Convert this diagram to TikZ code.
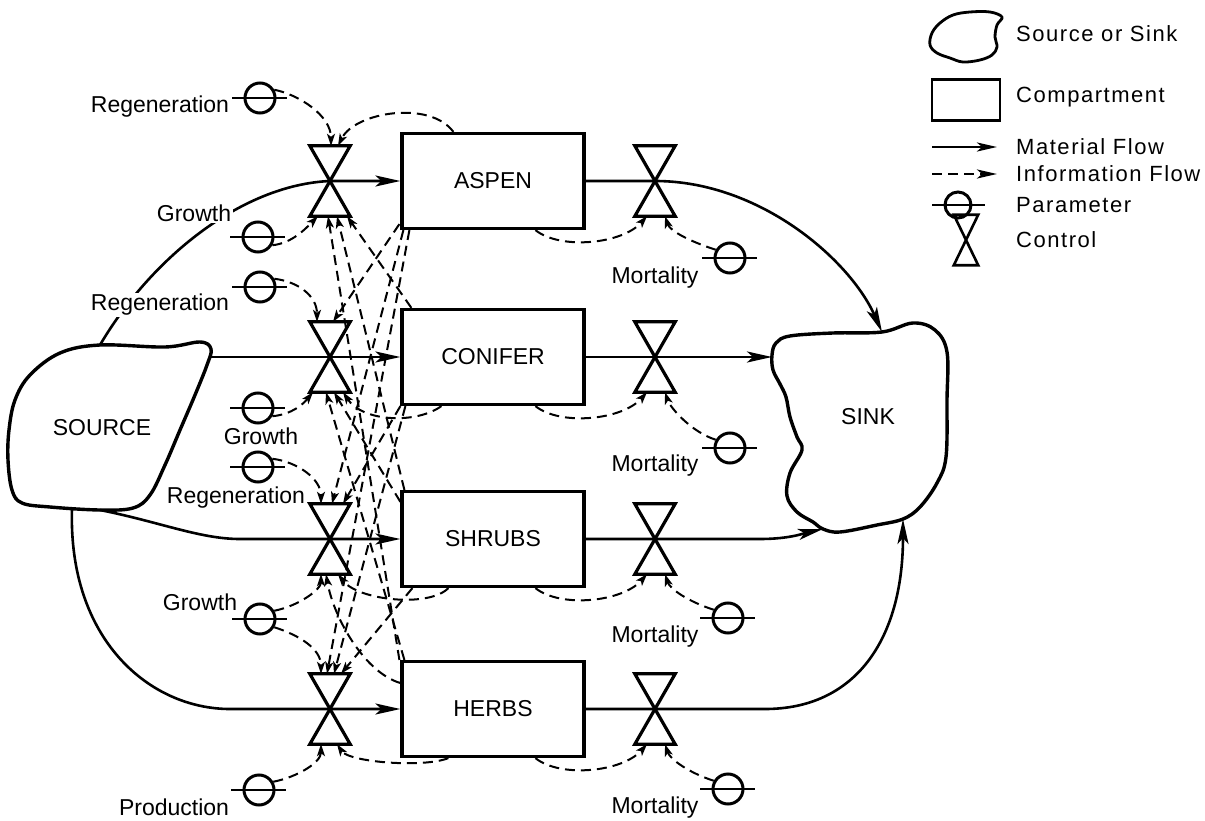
\documentclass[tikz,border=0pt]{standalone}
\usepackage{fontspec}
\setmainfont{Liberation Sans}
\newfontfamily\legfont[LetterSpace=7]{Liberation Sans}
\usetikzlibrary{arrows.meta,calc}
\tikzset{
 box/.style={draw, line width=3.2pt, minimum width=182pt, minimum height=95pt, inner sep=0pt, font=\fontsize{23pt}{25pt}\selectfont},
 valvebox/.style={minimum width=40pt, minimum height=70pt, inner sep=0pt},
 valveline/.style={line width=3.2pt, line join=miter},
 param/.style={circle, draw, line width=3pt, minimum size=30pt, inner sep=0pt},
 parbar/.style={line width=2.6pt},
 flow/.style={line width=2.6pt, -{Stealth[length=25pt,width=11pt,inset=6pt]}},
 info/.style={line width=2pt, dash pattern=on 10pt off 6pt, -{Stealth[length=12pt,width=8pt,inset=3pt]}},
 blob/.style={line width=3.4pt, line join=round},
 lbl/.style={font=\fontsize{23pt}{25pt}\selectfont, inner sep=1.5pt},
 cut/.style={lbl, fill=white},
 legtxt/.style={font=\legfont\fontsize{22pt}{24pt}\selectfont, anchor=west, inner sep=0pt},
}
\newcommand\valvenode[2]{%
 \node[valvebox] (#1) at (#2) {};
 \draw[valveline] (#1.north west) -- (#1.north east) -- (#1.south west) -- (#1.south east) -- cycle;}
\newcommand\paramnode[2]{%
 \node[param] (#1) at (#2) {};
 \draw[parbar] ($(#1.center)+(-28,0)$) -- ($(#1.center)+(27,0)$);}
\begin{document}
\begin{tikzpicture}[x=1pt,y=-1pt]
\useasboundingbox (0,0) rectangle (1205,821);

% source and sink
\draw[blob] plot[smooth cycle, tension=0.6] coordinates {(100,345) (165,347) (200,342) (211,349) (207,365) (195,395) (180,430) (165,465) (150,495) (133,508) (100,510) (50,507) (22,503) (12,490) (8,460) (9,430) (15,400) (30,375) (60,353)};
\node[lbl] (source) at (102,428) {SOURCE};
\draw[blob] plot[smooth cycle, tension=0.6] coordinates {(882,332) (913,323) (935,330) (947,352) (947,400) (946,457) (937,483) (920,507) (903,519) (877,525) (840,532) (823,529) (813,522) (797,512) (787,496) (790,473) (802,450) (797,437) (790,417) (786,397) (780,384) (773,370) (772,355) (776,343) (790,336) (833,333)};
\node[lbl] (sink) at (868,417) {SINK};
\coordinate (srcA) at (100,345);
\coordinate (srcC) at (209,357);
\coordinate (srcS) at (100,510);
\coordinate (srcH) at (72,509);
\coordinate (snkA) at (882,332);
\coordinate (snkC) at (772,357);
\coordinate (snkS) at (823,529);
\coordinate (snkH) at (903,519);

% compartments
\node[box] (A) at (493,181) {ASPEN};
\node[box] (C) at (493,357) {CONIFER};
\node[box] (S) at (493,539) {SHRUBS};
\node[box] (H) at (493,709) {HERBS};

% controls
\valvenode{cA}{330,181}
\valvenode{cC}{330,357}
\valvenode{cS}{330,539}
\valvenode{cH}{330,709}
\valvenode{mA}{655,181}
\valvenode{mC}{655,357}
\valvenode{mS}{655,539}
\valvenode{mH}{655,709}

% parameters
\paramnode{pRA}{260,98}
\paramnode{pGA}{258,237}
\paramnode{pRC}{260,287}
\paramnode{pGC}{258,408}
\paramnode{pRS}{258,467}
\paramnode{pGS}{260,619}
\paramnode{pP}{259,790}
\paramnode{qA}{730,258}
\paramnode{qC}{730,448}
\paramnode{qS}{728,618}
\paramnode{qH}{728,789}

% material flows
\draw[flow] (srcA) .. controls (150,260) and (240,185) .. (cA.center) -- (A.west);
\draw[flow] (srcC) -- (cC.center) -- (C.west);
\draw[flow] (srcS) .. controls (160,522) and (200,539) .. (240,539) -- (cS.center) -- (S.west);
\draw[flow] (srcH) .. controls (68,640) and (150,709) .. (230,709) -- (cH.center) -- (H.west);
\draw[flow] (A.east) -- (mA.center) .. controls (760,181) and (850,260) .. (snkA);
\draw[flow] (C.east) -- (mC.center) -- (snkC);
\draw[flow] (S.east) -- (mS.center) -- (760,539) .. controls (790,539) and (805,533) .. (snkS);
\draw[flow] (H.east) -- (mH.center) -- (765,709) .. controls (855,709) and (903,640) .. (snkH);

% information flows: aspen control
\draw[info] (pRA.30) .. controls +(25,5) and +(0,-30) .. ($(cA.north)+(1,0)$);
\draw[info] ($(A.north west)+(53,0)$) .. controls (430,100) and (355,112) .. ($(cA.north)+(8,0)$);
\draw[info] (pGA.-30) .. controls +(20,-2) and +(-12,12) .. ($(cA.south)+(-12,0)$);
\draw[info] ($(H.north west)+(-1,0)$) -- ($(cA.south)+(-2,0)$);
\draw[info] ($(S.north west)+(4,0)$) -- ($(cA.south)+(7,0)$);
\draw[info] ($(C.north west)+(11,0)$) -- ($(cA.south)+(17,0)$);
% conifer control
\draw[info] (pRC.30) .. controls +(25,3) and +(0,-25) .. ($(cC.north)+(-13,0)$);
\draw[info] ($(A.south west)+(-1,-6)$) -- ($(cC.north)+(3,0)$);
\draw[info] (pGC.-30) .. controls +(20,-2) and +(-10,12) .. ($(cC.south)+(-17,0)$);
\draw[info] ($(H.north west)+(4,0)$) -- ($(cC.south)+(-4,0)$);
\draw[info] ($(S.north west)+(0,12)$) -- ($(cC.south)+(4,0)$);
\draw[info] ($(C.south west)+(41,0)$) .. controls +(-25,18) and +(20,30) .. ($(cC.south)+(13,0)$);
% shrubs control
\draw[info] (pRS.30) .. controls +(25,3) and +(0,-25) .. ($(cS.north)+(-9,0)$);
\draw[info] ($(A.south west)+(3,0)$) -- ($(cS.north)+(2,0)$);
\draw[info] (C.south west) -- ($(cS.north)+(13,0)$);
\draw[info] (pGS.30) .. controls +(25,-5) and +(0,15) .. ($(cS.south)+(-9,0)$);
\draw[info] ($(H.west)+(0,-26)$) .. controls +(-35,-10) and +(8,45) .. ($(cS.south)+(-4,0)$);
\draw[info] ($(S.south west)+(48,0)$) .. controls +(-20,20) and +(20,26) .. ($(cS.south)+(8,0)$);
% herbs control
\draw[info] (pGS.-30) .. controls +(25,8) and +(0,-25) .. ($(cH.north)+(-9,0)$);
\draw[info] ($(A.south west)+(9,0)$) -- ($(cH.north)+(-3,0)$);
\draw[info] ($(C.south west)+(5,0)$) -- ($(cH.north)+(4,0)$);
\draw[info] ($(S.south west)+(12,0)$) -- ($(cH.north)+(11,0)$);
\draw[info] (pP.30) .. controls +(25,-5) and +(0,18) .. ($(cH.south)+(-9,0)$);
\draw[info] ($(H.south west)+(48,0)$) .. controls +(-25,10) and +(12,18) .. ($(cH.south)+(7,0)$);
% mortality controls
\foreach \r in {A,C,S,H} {
 \draw[info] ($(\r.south west)+(135,0)$) .. controls +(25,20) and +(-25,28) .. ($(m\r.south)+(-8,0)$);
 \draw[info] (q\r.150) .. controls +(-25,-8) and +(5,15) .. ($(m\r.south)+(10,0)$);
}

% labels
\node[lbl] (lRA) at (160,107) {Regeneration};
\node[cut] (lGA) at (194,213) {Growth};
\node[cut] (lRC) at (160,305) {Regeneration};
\node[lbl] (lGC) at (261,436) {Growth};
\node[lbl] (lRS) at (236,498) {Regeneration};
\node[lbl] (lGS) at (200,602) {Growth};
\node[lbl] (lP) at (174,807) {Production};
\node[lbl] (lMA) at (655,278) {Mortality};
\node[lbl] (lMC) at (655,466) {Mortality};
\node[lbl] (lMS) at (655,637) {Mortality};
\node[lbl] (lMH) at (655,808) {Mortality};

% legend
\draw[blob, line width=2.8pt] plot[smooth cycle, tension=0.6] coordinates {(953,15) (970,12) (990,12) (1002,17) (997,25) (995,37) (997,47) (992,55) (980,60) (963,62) (950,58) (937,53) (930,45) (932,33) (940,23)};
\node[legtxt] (lt1) at (1016,34) {Source or Sink};
\node[draw, line width=2.8pt, minimum width=68pt, minimum height=41pt] (lbox) at (966,100) {};
\node[legtxt] (lt2) at (1016,97) {Compartment};
\coordinate (lm1) at (932,147);
\coordinate (lm2) at (997,147);
\draw[flow, -{Stealth[length=20pt,width=9pt,inset=5pt]}] (lm1) -- (lm2);
\node[legtxt] (lt3) at (1016,147) {Material Flow};
\coordinate (li1) at (932,174);
\coordinate (li2) at (997,174);
\draw[info, line width=2.4pt, -{Stealth[length=20pt,width=9pt,inset=5pt]}] (li1) -- (li2);
\node[legtxt] (lt4) at (1016,174) {Information Flow};
\node[param, minimum size=26pt] (lp) at (958,205) {};
\draw[parbar] ($(lp.center)+(-26,0)$) -- ($(lp.center)+(27,0)$);
\node[legtxt] (lt5) at (1016,205) {Parameter};
\node[valvebox, minimum width=24pt, minimum height=50pt] (lv) at (966,240) {};
\draw[valveline, line width=2.6pt] (lv.north west) -- (lv.north east) -- (lv.south west) -- (lv.south east) -- cycle;
\node[legtxt] (lt6) at (1016,240) {Control};
\end{tikzpicture}
\end{document}
